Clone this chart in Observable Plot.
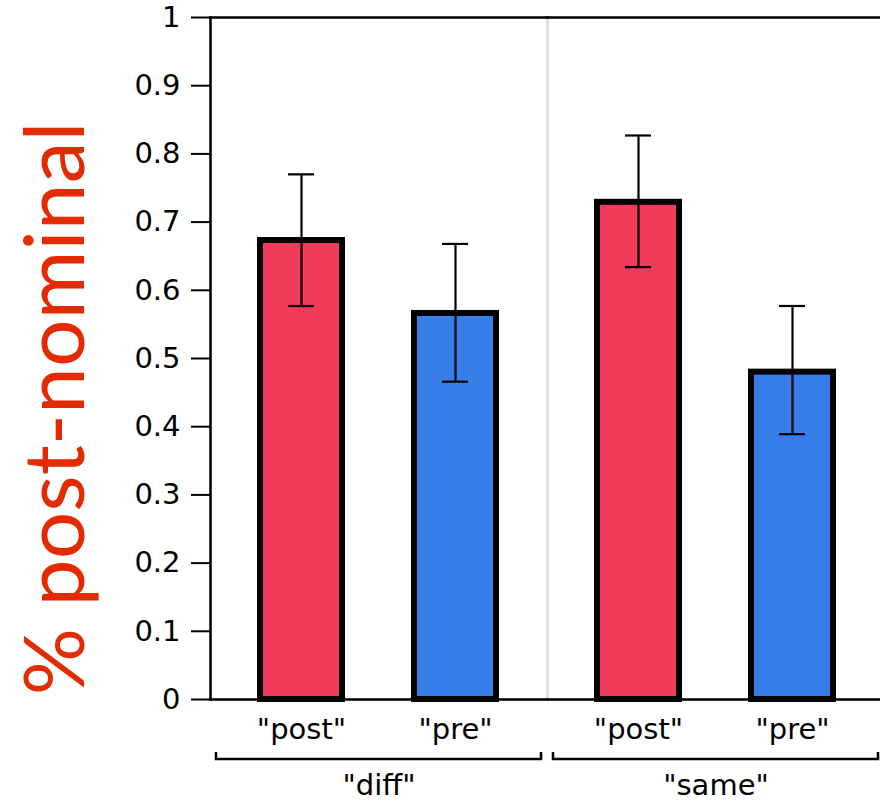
<!DOCTYPE html>
<html>
<head>
<meta charset="utf-8">
<script src="https://cdn.jsdelivr.net/npm/d3@7"></script>
<script src="https://cdn.jsdelivr.net/npm/@observablehq/plot@0.6"></script>
<style>
  html, body { margin: 0; padding: 0; background: #fff; overflow: hidden; }
  #chart svg { display: block; max-width: none; }
</style>
</head>
<body>
<div id="chart"></div>
<script>
// Outer grouping (facets) and inner conditions
const groups = ["diff", "same"];
const conditions = ["post", "pre"];

// Proportions, in the order diff/post, diff/pre, same/post, same/pre
const meanValues  = [0.673, 0.566, 0.729, 0.480];
const lowerValues = [0.577, 0.466, 0.634, 0.389];
const upperValues = [0.770, 0.668, 0.827, 0.577];

// Y axis ticks and their labels
const yTickValues = [0, 0.1, 0.2, 0.3, 0.4, 0.5, 0.6, 0.7, 0.8, 0.9, 1];
const yTickLabels = ["0", "0.1", "0.2", "0.3", "0.4", "0.5", "0.6", "0.7", "0.8", "0.9", "1"];

const conditionColors = ["#f13b5b", "#387ee9"];
const yLabel = "% post-nominal";

const rows = groups.flatMap((group, gi) =>
  conditions.map((condition, ci) => {
    const k = gi * conditions.length + ci;
    return {group, condition, mean: meanValues[k], lo: lowerValues[k], hi: upperValues[k]};
  })
);

// Layout (the right-hand edge of the panel runs just past the page)
const width = 890, height = 804;
const marginLeft = 210, marginRight = 6, marginTop = 17, marginBottom = 105;
const facetWidth = (width - marginLeft - marginRight) / groups.length;
const bracketInset = 6, bracketDepth = 7;
const bracketWidth = facetWidth - 2 * bracketInset;

const quoted = (d) => `"${d}"`;
const tickFont = "'DejaVu Sans', Verdana, sans-serif";

const chart = Plot.plot({
  width, height, marginLeft, marginRight, marginTop, marginBottom,
  style: {background: "white", overflow: "visible", maxWidth: "none"},
  fx: {domain: groups, padding: 0, axis: null},
  x: {domain: conditions, paddingInner: 0.465, paddingOuter: 0.32, axis: null},
  y: {domain: [0, 1], axis: null},
  color: {domain: conditions, range: conditionColors},
  marks: [
    // light grey panel outline (shows as the divider between the two groups)
    Plot.frame({stroke: "#d9d9d9", strokeWidth: 2}),

    // bars
    Plot.barY(rows, {fx: "group", x: "condition", y: "mean", fill: "condition", stroke: "black", strokeWidth: 6}),

    // error bars
    Plot.ruleX(rows, {fx: "group", x: "condition", y1: "lo", y2: "hi", stroke: "black", strokeWidth: 2.2}),
    Plot.tickY(rows, {fx: "group", x: "condition", y: "hi", stroke: "black", strokeWidth: 2.2, insetLeft: 28, insetRight: 28}),
    Plot.tickY(rows, {fx: "group", x: "condition", y: "lo", stroke: "black", strokeWidth: 2.2, insetLeft: 28, insetRight: 28}),

    // black frame lines
    Plot.frame({anchor: "top", stroke: "black", strokeWidth: 2.5}),
    Plot.frame({anchor: "bottom", stroke: "black", strokeWidth: 2.5}),
    Plot.frame({anchor: "left", stroke: "black", strokeWidth: 2.5, facetAnchor: "left"}),

    // y axis ticks and labels
    Plot.axisY({
      ticks: yTickValues,
      tickFormat: (d) => yTickLabels[yTickValues.indexOf(d)],
      tickSize: 19, tickPadding: 11, strokeWidth: 2,
      fontSize: 29, fontFamily: tickFont, color: "black", label: null
    }),

    // y axis title
    Plot.text([yLabel], {
      text: (d) => d, frameAnchor: "left", rotate: -90,
      dx: -153, dy: 50, textAnchor: "middle", lineAnchor: "middle",
      fontSize: 84, fontFamily: "Lato, 'Open Sans', sans-serif", fill: "#e32a00",
      facetAnchor: "left"
    }),

    // condition labels
    Plot.axisX({tickSize: 0, tickPadding: 19, fontSize: 29, fontFamily: tickFont, tickFormat: quoted, label: null, color: "black"}),

    // group labels
    Plot.axisFx({anchor: "bottom", tickSize: 0, tickPadding: 75, fontSize: 29, fontFamily: tickFont, tickFormat: quoted, label: null, color: "black"}),

    // group brackets: open-topped outline just below the axis
    Plot.rect([0], {
      y1: (d) => d, y2: (d) => d,
      insetTop: 53, insetBottom: -53 - bracketDepth,
      insetLeft: bracketInset, insetRight: bracketInset,
      fill: "none", stroke: "black", strokeWidth: 2.5,
      strokeDasharray: `0,${bracketWidth},${2 * bracketDepth + bracketWidth}`
    })
  ]
});

document.getElementById("chart").append(chart);
</script>
</body>
</html>
